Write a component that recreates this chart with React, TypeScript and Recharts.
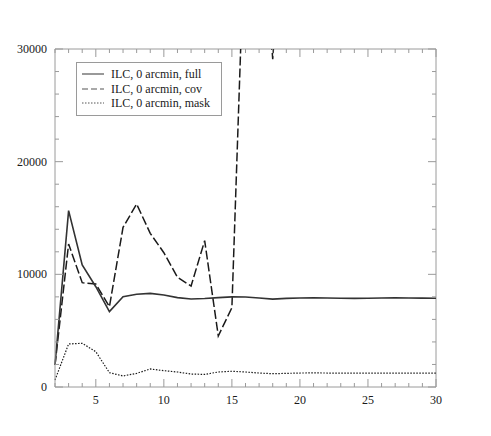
import React from "react";
import { LineChart, Line, XAxis, YAxis, ReferenceLine } from "recharts";

const FRAME = "#9a9a9a";
const INK = "#1a1a1a";
const FONT = "'Liberation Serif', 'DejaVu Serif', serif";

const W = 483;
const H = 428;
const PLOT_TOP = 41;
const PLOT_RIGHT = 428;

// multipole index
const ells = [2, 3, 4, 5, 6, 7, 8, 9, 10, 11, 12, 13, 14, 15, 16, 17, 18, 19, 20, 21, 22, 23, 24, 25, 26, 27, 28, 29, 30];

const full = [1950, 15650, 10830, 8900, 6690, 8020, 8230, 8310, 8170, 7930, 7810, 7850, 7930, 8000, 7990, 7900, 7800, 7870, 7900, 7920, 7900, 7880, 7870, 7880, 7900, 7910, 7900, 7890, 7880];
const cov = [1950, 12690, 9260, 9140, 7130, 14170, 16240, 13640, 11920, 9740, 8960, 12990, 4530, 7040, 42700, 46000, 29100, 47000, 52000, 58000, 61000, 55000, 60000, 64000, 59000, 62000, 66000, 63000, 65000];
const mask = [620, 3820, 3880, 3130, 1270, 980, 1210, 1600, 1450, 1330, 1150, 1120, 1330, 1400, 1330, 1240, 1180, 1210, 1240, 1250, 1240, 1240, 1240, 1240, 1240, 1240, 1240, 1240, 1240];

const xTicks = ells;
const yTicks = [0, 2000, 4000, 6000, 8000, 10000, 12000, 14000, 16000, 18000, 20000, 22000, 24000, 26000, 28000, 30000];

const labels = {
  full: "ILC, 0 arcmin, full",
  cov: "ILC, 0 arcmin, cov",
  mask: "ILC, 0 arcmin, mask",
};

const data = ells.map((l, i) => ({ l, full: full[i], cov: cov[i], mask: mask[i] }));

function BottomTick(props: any) {
  const { x, y, payload } = props;
  const major = payload.value % 5 === 0;
  const len = major ? 8 : 4;
  return (
    <g>
      <line x1={x} y1={y} x2={x} y2={y - len} stroke={FRAME} />
      <line x1={x} y1={PLOT_TOP} x2={x} y2={PLOT_TOP + len} stroke={FRAME} />
      {major && (
        <text x={x} y={y + 17} textAnchor="middle" fontSize={12} fontFamily={FONT} fill={INK} style={{ fill: INK }}>
          {payload.value}
        </text>
      )}
    </g>
  );
}

function LeftTick(props: any) {
  const { x, y, payload } = props;
  const major = payload.value % 10000 === 0;
  const len = major ? 8 : 4;
  return (
    <g>
      <line x1={x} y1={y} x2={x + len} y2={y} stroke={FRAME} />
      <line x1={PLOT_RIGHT} y1={y} x2={PLOT_RIGHT - len} y2={y} stroke={FRAME} />
      {major && (
        <text x={x - 8} y={y + 4} textAnchor="end" fontSize={12} fontFamily={FONT} fill={INK} style={{ fill: INK }}>
          {payload.value}
        </text>
      )}
    </g>
  );
}

function Swatch({ dash, width, color }: { dash?: string; width: number; color: string }) {
  return (
    <svg width={22} height={10} style={{ marginRight: 7, flex: "none" }}>
      <line x1={0} y1={5} x2={22} y2={5} stroke={color} strokeWidth={width} strokeDasharray={dash} />
    </svg>
  );
}

export default function App() {
  return (
    <div style={{ position: "relative", width: W, height: H }}>
      <LineChart width={W} height={H} data={data} margin={{ top: PLOT_TOP, right: W - PLOT_RIGHT, left: 0, bottom: 19 }}>
        <XAxis
          dataKey="l"
          type="number"
          domain={[2, 30]}
          ticks={xTicks}
          interval={0}
          tickSize={0}
          tickMargin={0}
          tickLine={false}
          axisLine={{ stroke: FRAME }}
          tick={<BottomTick />}
          height={30}
        />
        <YAxis
          type="number"
          domain={[0, 30000]}
          allowDataOverflow
          ticks={yTicks}
          interval={0}
          tickSize={0}
          tickMargin={0}
          tickLine={false}
          axisLine={{ stroke: FRAME }}
          tick={<LeftTick />}
          width={47}
        />
        <ReferenceLine y={30000} stroke={FRAME} />
        <ReferenceLine x={30} stroke={FRAME} />
        <Line dataKey="mask" stroke={INK} strokeWidth={1.2} strokeDasharray="1.5 1.5" dot={false} isAnimationActive={false} />
        <Line dataKey="cov" stroke={INK} strokeWidth={1.5} strokeDasharray="9 3" dot={false} isAnimationActive={false} />
        <Line dataKey="full" stroke="#333" strokeWidth={1.6} dot={false} isAnimationActive={false} />
      </LineChart>
      <div
        style={{
          position: "absolute",
          left: 68,
          top: 54,
          width: 144,
          padding: "4px 0",
          border: `1px solid ${FRAME}`,
          background: "#fff",
          fontFamily: FONT,
          fontSize: 12,
          color: INK,
          lineHeight: "14.5px",
        }}
      >
        {[
          { key: "full", dash: undefined, width: 1.2, color: "#555" },
          { key: "cov", dash: "6 3", width: 1.2, color: "#555" },
          { key: "mask", dash: "1.5 1.5", width: 1, color: "#555" },
        ].map((r) => (
          <div key={r.key} style={{ display: "flex", alignItems: "center", paddingLeft: 5, whiteSpace: "nowrap" }}>
            <Swatch dash={r.dash} width={r.width} color={r.color} />
            <span>{labels[r.key as keyof typeof labels]}</span>
          </div>
        ))}
      </div>
    </div>
  );
}
